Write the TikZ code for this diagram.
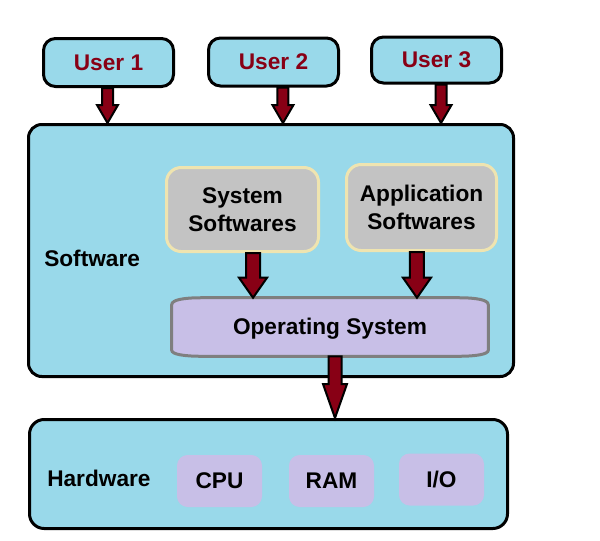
\documentclass[tikz,border=0pt]{standalone}
\usepackage{fontspec}
\setmainfont{Liberation Sans}
\usepackage{xcolor}
\usepackage{tikz}
\usetikzlibrary{arrows.meta,positioning,calc}

\definecolor{boxblue}{RGB}{153,217,234}
\definecolor{userred}{RGB}{136,0,21}
\definecolor{swgray}{RGB}{195,195,195}
\definecolor{swcream}{RGB}{239,228,176}
\definecolor{oslilac}{RGB}{200,191,231}
\definecolor{osborder}{RGB}{127,127,127}

% fat down arrow: start, target, shaft half width, head half width, head length
\newcommand{\blockarrow}[5]{%
  \path (#1) coordinate (ba-s) (ba-s |- #2) coordinate (ba-e);
  \draw[blockarr] ($(ba-s)+(-#3,0)$) -- ($(ba-e)+(-#3,-#5)$) -- ($(ba-e)+(-#4,-#5)$)
    -- (ba-e) -- ($(ba-e)+(#4,-#5)$) -- ($(ba-e)+(#3,-#5)$) -- ($(ba-s)+(#3,0)$) -- cycle;}

\begin{document}
\begin{tikzpicture}[
  x=0.75pt, y=-0.75pt,
  font=\fontsize{17}{21}\selectfont\bfseries,
  userbox/.style={draw, line width=2.25pt, rounded corners=9pt, fill=boxblue, text=userred, inner sep=0pt, minimum width=97.5pt, minimum height=36pt},
  layer/.style={draw, line width=2.25pt, rounded corners=10pt, fill=boxblue, inner sep=0pt},
  layerlabel/.style={anchor=west, inner sep=0pt},
  swbox/.style={draw=swcream, line width=2.25pt, rounded corners=11pt, fill=swgray, align=center, inner sep=0pt},
  hwpart/.style={fill=oslilac, rounded corners=8pt, inner sep=0pt, minimum width=63.75pt, minimum height=39pt},
  osline/.style={draw=osborder, line width=2.25pt, fill=oslilac},
  blockarr/.style={draw=black, line width=1.5pt, fill=userred, line join=miter}
]
  \useasboundingbox (0,0) rectangle (600,540);

  \node[userbox] (u1) at (108.5,62.5) {User 1};
  \node[userbox] (u2) at (273.5,62) {User 2};
  \node[userbox, minimum height=34.5pt] (u3) at (436.5,60) {User 3};

  \node[layer, minimum width=363.75pt, minimum height=189pt] (sw) at (271,250.5) {};
  \node[layerlabel] (swlabel) at (44,258) {Software};

  \node[swbox, minimum width=114pt, minimum height=63pt] (s1) at (242.5,209.5) {System\\Softwares};
  \node[swbox, minimum width=112.5pt, minimum height=64.5pt] (s2) at (421.5,207.5) {Application\\Softwares};

  % operating system, bulged top and bottom
  \node[minimum width=237pt, minimum height=43.5pt, inner sep=0pt] (os) at (330,327) {};
  \draw[osline] ([yshift=-5.25pt]os.north west) .. controls +(0,-5) and +(-18,0) .. ([xshift=22.5pt]os.north west)
    -- ([xshift=-22.5pt]os.north east) .. controls +(18,0) and +(0,-5) .. ([yshift=-5.25pt]os.north east)
    -- ([yshift=4.5pt]os.south east) .. controls +(0,4) and +(18,0) .. ([xshift=-22.5pt]os.south east)
    -- ([xshift=22.5pt]os.south west) .. controls +(-18,0) and +(0,4) .. ([yshift=4.5pt]os.south west) -- cycle;
  \node at ([yshift=-1.5pt]os.center) {Operating System};

  \node[layer, rounded corners=11pt, minimum width=358.5pt, minimum height=81.75pt] (hw) at (268.5,474) {};
  \node[layerlabel] (hwlabel) at (47,478) {Hardware};
  \node[hwpart] (cpu) at (219.5,481) {CPU};
  \node[hwpart] (ram) at (331.5,481) {RAM};
  \node[hwpart] (io) at (441.5,479.5) {I/O};

  \blockarrow{[xshift=-0.75pt]u1.south}{sw.north}{5.5}{10.5}{18}
  \blockarrow{[xshift=7.1pt]u2.south}{sw.north}{5.5}{10.5}{18}
  \blockarrow{[xshift=3.4pt]u3.south}{sw.north}{5.5}{10.5}{18}
  \blockarrow{[xshift=7.9pt]s1.south}{os.north}{7}{14}{20}
  \blockarrow{[xshift=-3.4pt]s2.south}{os.north}{7}{14}{20}
  \blockarrow{[xshift=3.75pt]os.south}{hw.north}{6.5}{12}{34}
\end{tikzpicture}
\end{document}
